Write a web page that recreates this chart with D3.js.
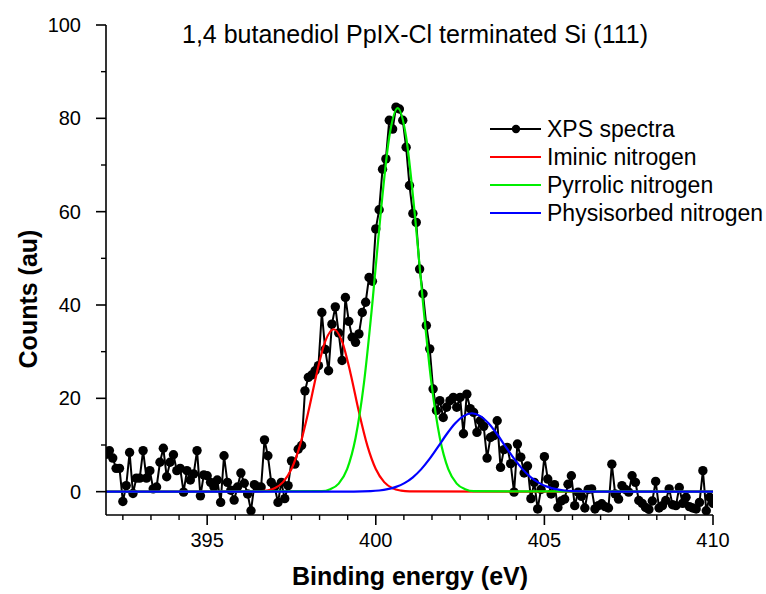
<!DOCTYPE html>
<html>
<head>
<meta charset="utf-8">
<script src="https://cdn.jsdelivr.net/npm/d3@7"></script>
<style>
  body { margin: 0; background: #fff; }
  svg text { font-family: "Liberation Sans", Arial, sans-serif; fill: #000; }
</style>
</head>
<body>
<svg id="chart" width="766" height="594"></svg>
<script>
// spectrum: counts from 392.0 eV to 410.0 eV, 0.1 eV per point
const startEnergy = 392.0;
const stepEnergy = 0.1;
const counts = [
  8.0, 8.8, 7.2, 5.0, 5.0, -2.1, 1.3, 8.4, -0.4, 2.9,      // 392.0
  2.9, 8.8, 2.9, 4.5, 0.6, 1.0, 6.3, 9.3, 3.2, 6.3,        // 393.0
  7.9, 4.5, 5.0, -0.1, 4.5, 2.5, 3.8, 8.8, -0.9, 3.6,      // 394.0
  3.4, 2.0, 1.0, 2.5, -2.3, 7.7, 2.0, 0.3, -1.8, 1.0,      // 395.0
  4.0, 1.8, -0.5, -4.1, 1.5, 1.0, 1.0, 11.1, 7.7, 2.0,     // 396.0
  1.0, -2.3, 2.0, -1.5, 1.3, 6.6, 5.9, 9.1, 9.9, 21.6,     // 397.0
  24.5, 25.0, 25.9, 27.0, 38.4, 30.5, 25.9, 35.9, 39.6, 34.0, // 398.0
  28.1, 41.6, 36.5, 33.1, 32.0, 33.8, 38.4, 40.6, 45.9, 45.1, // 399.0
  56.3, 60.4, 69.1, 71.3, 79.6, 77.7, 82.4, 82.0, 79.6, 73.8, // 400.0
  65.6, 59.6, 57.7, 47.7, 42.4, 35.6, 30.6, 22.0, 17.4, 19.5, // 401.0
  15.9, 18.1, 19.5, 20.2, 18.1, 20.2, 12.4, 20.9, 17.8, 17.0, // 402.0
  12.7, 15.2, 14.0, 7.2, 11.6, 12.0, 15.2, 5.2, 9.0, 9.5,  // 403.0
  6.0, -0.1, 10.2, 7.4, 4.0, 5.5, -1.5, 2.0, -3.7, 0.5,    // 404.0
  7.5, 2.7, -0.5, 1.5, -3.4, -2.0, -1.6, 1.6, 3.4, -3.0,   // 405.0
  -0.1, -1.0, -3.5, 0.5, 0.6, -3.7, -3.0, -2.6, -3.2, -3.5, // 406.0
  5.9, -0.5, -1.6, 1.3, 0.5, -0.1, 3.4, 2.0, -1.9, -2.5,   // 407.0
  -3.4, -3.8, -2.0, 2.2, -3.5, -3.0, -1.9, 0.6, -2.8, -3.0, // 408.0
  0.9, -2.5, -1.2, -3.2, -3.5, -3.7, -2.3, 4.5, -4.1, -1.2, // 409.0
  -2.5                                                     // 410.0
];

// fitted components as [energy, counts]
const iminic = [
  [392, 0], [396.5, 0.05], [396.75, 0.22], [397.0, 0.73], [397.25, 2.05], [397.5, 4.86],
  [397.75, 9.87], [398.0, 17.1], [398.25, 25.4], [398.5, 32.2], [398.75, 34.8],
  [399.0, 32.2], [399.25, 25.4], [399.5, 17.1], [399.75, 9.87], [400.0, 4.86],
  [400.25, 2.05], [400.5, 0.73], [400.75, 0.22], [401.0, 0.05], [410, 0]
];
const pyrrolic = [
  [392, 0], [398.4, 0.1], [398.65, 0.53], [398.9, 1.73], [399.15, 4.83], [399.4, 11.5],
  [399.65, 23.3], [399.9, 40.5], [400.15, 60.0], [400.4, 76.0], [400.65, 82.2],
  [400.9, 76.0], [401.15, 60.0], [401.4, 40.5], [401.65, 23.3], [401.9, 11.5],
  [402.15, 4.83], [402.4, 1.73], [402.65, 0.53], [402.9, 0.1], [410, 0]
];
const physisorbed = [
  [392, 0], [399.35, 0.02], [399.85, 0.11], [400.1, 0.25], [400.35, 0.53], [400.6, 1.02],
  [400.85, 1.83], [401.1, 3.08], [401.35, 4.83], [401.6, 7.07], [401.85, 9.65],
  [402.1, 12.3], [402.35, 14.6], [402.6, 16.2], [402.85, 16.8], [403.1, 16.2],
  [403.35, 14.6], [403.6, 12.3], [403.85, 9.65], [404.1, 7.07], [404.35, 4.83],
  [404.6, 3.08], [404.85, 1.83], [405.1, 1.02], [405.35, 0.53], [405.6, 0.25],
  [405.85, 0.11], [406.35, 0.02], [410, 0]
];

const xTicks = [395, 400, 405, 410];
const yTicks = [0, 20, 40, 60, 80, 100];
const legendNames = ["XPS spectra", "Iminic nitrogen", "Pyrrolic nitrogen", "Physisorbed nitrogen"];
const legendColors = ["#000000", "#ff0000", "#00ee00", "#0000ff"];

const svg = d3.select("#chart");
const plotLeft = 106, plotRight = 713, plotTop = 25, plotBottom = 515;

const x = d3.scaleLinear().domain([392, 410]).range([plotLeft, plotRight]);
const y = d3.scaleLinear().domain([-5, 100]).range([plotBottom, plotTop]);

const spectrum = counts.map((c, i) => [startEnergy + i * stepEnergy, c]);

svg.append("defs").append("clipPath").attr("id", "plotClip")
  .append("rect").attr("x", plotLeft).attr("y", plotTop)
  .attr("width", plotRight - plotLeft).attr("height", plotBottom - plotTop);

const plot = svg.append("g").attr("clip-path", "url(#plotClip)");

const line = d3.line().x(d => x(d[0])).y(d => y(d[1]));
const smooth = d3.line().x(d => x(d[0])).y(d => y(d[1])).curve(d3.curveMonotoneX);

plot.append("path").datum(spectrum)
  .attr("d", line).attr("fill", "none").attr("stroke", "#000").attr("stroke-width", 2);

plot.selectAll("circle.pt").data(spectrum).enter().append("circle")
  .attr("class", "pt")
  .attr("cx", d => x(d[0])).attr("cy", d => y(d[1])).attr("r", 4.7).attr("fill", "#000");

[iminic, pyrrolic, physisorbed].forEach((s, i) => {
  plot.append("path").datum(s)
    .attr("d", smooth).attr("fill", "none")
    .attr("stroke", legendColors[i + 1]).attr("stroke-width", 2.2);
});

// axes
const xMinor = d3.range(392.5, 410, 5 / 6).filter(v => !xTicks.some(t => Math.abs(t - v) < 0.01));
const xAxis = svg.append("g").attr("transform", `translate(0,${plotBottom})`);
xAxis.append("line").attr("x1", plotLeft).attr("x2", plotRight).attr("stroke", "#000").attr("stroke-width", 1.6);
xAxis.selectAll("line.minor").data(xMinor).enter().append("line")
  .attr("x1", d => x(d)).attr("x2", d => x(d)).attr("y1", 0).attr("y2", 5)
  .attr("stroke", "#000").attr("stroke-width", 1.4);
xAxis.selectAll("line.major").data(xTicks).enter().append("line")
  .attr("x1", d => x(d)).attr("x2", d => x(d)).attr("y1", 0).attr("y2", 10)
  .attr("stroke", "#000").attr("stroke-width", 1.6);
xAxis.selectAll("text").data(xTicks).enter().append("text")
  .attr("x", d => x(d)).attr("y", 32).attr("text-anchor", "middle")
  .attr("font-size", 20).text(d => d);

const yMinor = [10, 30, 50, 70, 90];
const yAxis = svg.append("g").attr("transform", `translate(${plotLeft},0)`);
yAxis.append("line").attr("y1", plotTop).attr("y2", plotBottom).attr("stroke", "#000").attr("stroke-width", 1.6);
yAxis.selectAll("line.minor").data(yMinor).enter().append("line")
  .attr("y1", d => y(d)).attr("y2", d => y(d)).attr("x1", 0).attr("x2", -5)
  .attr("stroke", "#000").attr("stroke-width", 1.4);
yAxis.selectAll("line.major").data(yTicks).enter().append("line")
  .attr("y1", d => y(d)).attr("y2", d => y(d)).attr("x1", 0).attr("x2", -10)
  .attr("stroke", "#000").attr("stroke-width", 1.6);
yAxis.selectAll("text").data(yTicks).enter().append("text")
  .attr("x", -25).attr("y", d => y(d) + 7).attr("text-anchor", "end")
  .attr("font-size", 20).text(d => d);

// titles
svg.append("text").attr("x", 415).attr("y", 43).attr("text-anchor", "middle")
  .attr("font-size", 25).text("1,4 butanediol PpIX-Cl terminated Si (111)");
svg.append("text").attr("x", 410).attr("y", 585).attr("text-anchor", "middle")
  .attr("font-size", 25).attr("font-weight", "bold").text("Binding energy (eV)");
svg.append("text").attr("transform", "translate(37,299) rotate(-90)").attr("text-anchor", "middle")
  .attr("font-size", 25).attr("font-weight", "bold").text("Counts (au)");

// legend
const legend = svg.append("g").attr("transform", "translate(490,129)");
legendNames.forEach((name, i) => {
  const row = legend.append("g").attr("transform", `translate(0,${i * 28})`);
  row.append("line").attr("x1", 0).attr("x2", 51).attr("stroke", legendColors[i]).attr("stroke-width", 2.2);
  if (i === 0) row.append("circle").attr("cx", 26).attr("r", 4.2).attr("fill", "#000");
  row.append("text").attr("x", 57).attr("y", 8).attr("font-size", 23).text(name);
});
</script>
</body>
</html>
